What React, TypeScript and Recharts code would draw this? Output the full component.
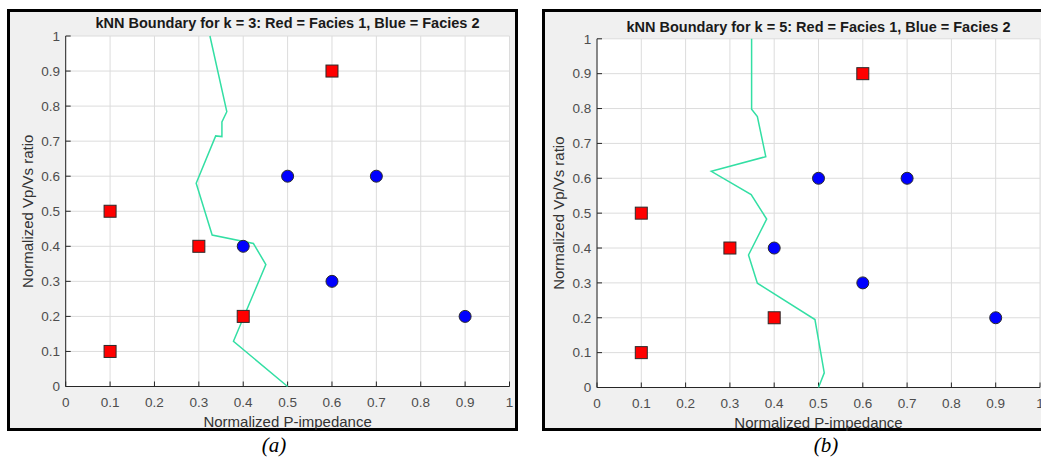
import { CartesianGrid, Label, Scatter, ScatterChart, XAxis, YAxis } from "recharts";

const AXIS_TICKS = [0, 0.1, 0.2, 0.3, 0.4, 0.5, 0.6, 0.7, 0.8, 0.9, 1];

// training points
const FACIES1_X = [0.1, 0.1, 0.3, 0.4, 0.6];
const FACIES1_Y = [0.1, 0.5, 0.4, 0.2, 0.9];
const FACIES2_X = [0.4, 0.5, 0.7, 0.6, 0.9];
const FACIES2_Y = [0.4, 0.6, 0.6, 0.3, 0.2];

// decision boundaries, traced top to bottom
const K3_X = [0.325, 0.363, 0.352, 0.352, 0.338, 0.294, 0.33, 0.423, 0.451, 0.378, 0.5];
const K3_Y = [1, 0.784, 0.755, 0.713, 0.715, 0.58, 0.432, 0.408, 0.348, 0.129, 0];
const K5_X = [0.349, 0.349, 0.362, 0.381, 0.258, 0.348, 0.383, 0.342, 0.362, 0.492, 0.513, 0.5];
const K5_Y = [1, 0.798, 0.777, 0.662, 0.62, 0.553, 0.483, 0.38, 0.299, 0.195, 0.042, 0];

const FONT = '"Liberation Sans", Arial, Helvetica, sans-serif';
const AXIS_COLOR = "#262626";
const TICK_COLOR = "#4d4d4d";

const zip = (xs: number[], ys: number[]) => xs.map((x, i) => ({ x, y: ys[i] }));

const facies1 = zip(FACIES1_X, FACIES1_Y);
const facies2 = zip(FACIES2_X, FACIES2_Y);

const Square = (p: any) => (
  <rect x={p.cx - 6} y={p.cy - 6} width={12} height={12} fill="#ff0000" stroke="#2b2b2b" strokeWidth={1} />
);
const Dot = (p: any) => <circle cx={p.cx} cy={p.cy} r={6} fill="#0000ff" stroke="#2b2b2b" strokeWidth={1} />;

type PanelProps = {
  k: number;
  boundary: { x: number; y: number }[];
  chartLeft: number;
  chartWidth: number;
  margin: { top: number; right: number; bottom: number; left: number };
  titleX: number;
  titleY: number;
};

function KnnPanel({ k, boundary, chartLeft, chartWidth, margin, titleX, titleY }: PanelProps) {
  return (
    <>
      <div
        style={{
          position: "absolute",
          left: titleX - 250,
          top: titleY - 9,
          width: 500,
          textAlign: "center",
          fontFamily: FONT,
          fontWeight: "bold",
          fontSize: 14.5,
          lineHeight: "18px",
          color: "#1a1a1a",
          whiteSpace: "nowrap",
        }}
      >
        kNN Boundary for k = {k}: Red = Facies 1, Blue = Facies 2
      </div>
      <div style={{ position: "absolute", left: chartLeft, top: 0 }}>
        <ScatterChart width={chartWidth} height={459} margin={margin}>
          <CartesianGrid stroke="#dcdcdc" fill="#ffffff" />
          <XAxis
            type="number"
            dataKey="x"
            domain={[0, 1]}
            ticks={AXIS_TICKS}
            interval={0}
            height={40}
            tickSize={-5}
            tickMargin={16}
            axisLine={{ stroke: AXIS_COLOR }}
            tickLine={{ stroke: AXIS_COLOR }}
            tick={{ fill: TICK_COLOR, fontSize: 13.5, fontFamily: FONT }}
            tickFormatter={(v) => String(v)}
          >
            <Label value="Normalized P-impedance" position="insideBottom" offset={0} fill="#333" fontSize={15} fontFamily={FONT} />
          </XAxis>
          <XAxis
            xAxisId="top"
            orientation="top"
            type="number"
            domain={[0, 1]}
            ticks={AXIS_TICKS}
            interval={0}
            height={0}
            tickSize={-5}
            tick={false}
            axisLine={{ stroke: AXIS_COLOR }}
            tickLine={{ stroke: AXIS_COLOR }}
          />
          <YAxis
            type="number"
            dataKey="y"
            domain={[0, 1]}
            ticks={AXIS_TICKS}
            interval={0}
            width={58}
            tickSize={-5}
            tickMargin={10.7}
            axisLine={{ stroke: AXIS_COLOR }}
            tickLine={{ stroke: AXIS_COLOR }}
            tick={{ fill: TICK_COLOR, fontSize: 13.5, fontFamily: FONT }}
            tickFormatter={(v) => String(v)}
          >
            <Label
              value="Normalized Vp/Vs ratio"
              angle={-90}
              position="insideLeft"
              offset={20}
              fill="#333"
              fontSize={15}
              fontFamily={FONT}
              style={{ textAnchor: "middle" }}
            />
          </YAxis>
          <YAxis
            yAxisId="right"
            orientation="right"
            type="number"
            domain={[0, 1]}
            ticks={AXIS_TICKS}
            interval={0}
            width={0}
            tickSize={-5}
            tick={false}
            axisLine={{ stroke: AXIS_COLOR }}
            tickLine={{ stroke: AXIS_COLOR }}
          />
          <Scatter
            data={boundary}
            line={{ stroke: "#33dfa4", strokeWidth: 1.5 }}
            shape={() => <g />}
            isAnimationActive={false}
          />
          <Scatter data={facies1} shape={Square} isAnimationActive={false} />
          <Scatter data={facies2} shape={Dot} isAnimationActive={false} />
        </ScatterChart>
      </div>
    </>
  );
}

const panelBox = (left: number, width: number): React.CSSProperties => ({
  position: "absolute",
  left,
  top: 9,
  width,
  height: 422,
  boxSizing: "border-box",
  border: "3px solid #000",
  background: "#f0f0f0",
});

const caption = (cx: number): React.CSSProperties => ({
  position: "absolute",
  left: cx - 30,
  top: 432,
  width: 60,
  textAlign: "center",
  fontFamily: '"Liberation Serif", "Times New Roman", serif',
  fontStyle: "italic",
  fontSize: 21,
  lineHeight: "26px",
  color: "#000",
});

export default function App() {
  return (
    <div style={{ position: "absolute", left: 0, top: 0, width: 1041, height: 459, background: "#fff", overflow: "hidden" }}>
      <div style={panelBox(7, 511)} />
      <div style={panelBox(542, 520)} />
      <KnnPanel
        k={3}
        boundary={zip(K3_X, K3_Y)}
        chartLeft={0}
        chartWidth={530}
        margin={{ top: 36, right: 20.5, bottom: 32.5, left: 7.7 }}
        titleX={287.5}
        titleY={23.3}
      />
      <KnnPanel
        k={5}
        boundary={zip(K5_X, K5_Y)}
        chartLeft={530}
        chartWidth={511}
        margin={{ top: 38.8, right: 1, bottom: 31.5, left: 9 }}
        titleX={818.5}
        titleY={26.7}
      />
      <div style={caption(274)}>(a)</div>
      <div style={caption(826)}>(b)</div>
    </div>
  );
}
